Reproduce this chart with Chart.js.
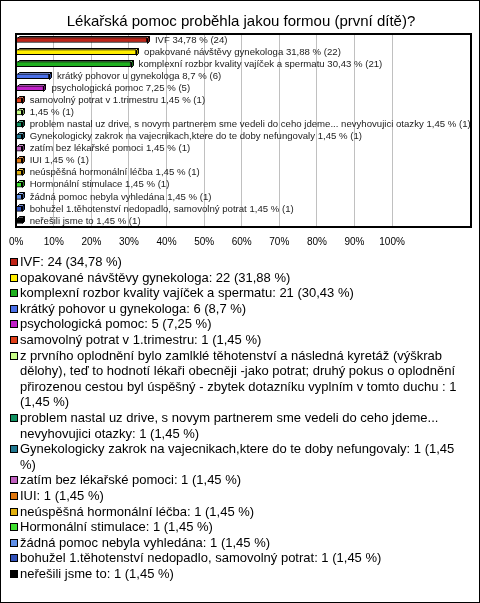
<!DOCTYPE html>
<html>
<head>
<meta charset="utf-8">
<script src="https://cdn.jsdelivr.net/npm/chart.js@4/dist/chart.umd.min.js"></script>
<style>
    body { margin: 0; background: #fff; font-family: "Liberation Sans", Arial, sans-serif; }
    #page { position: relative; width: 480px; height: 603px; overflow: hidden; }
    #frame { position: absolute; left: 0; top: 0; width: 480px; height: 603px; box-sizing: border-box; border: 1px solid #000; pointer-events: none; }
    #chartBox { position: absolute; left: 0; top: 0; width: 480px; height: 262px; }
    #legend { position: absolute; left: 0; top: 254px; width: 472px; font-size: 13px; line-height: 15.6px; color: #000; }
    .item { position: relative; padding-left: 20px; }
    .item span { position: absolute; left: 10px; top: 4px; width: 6px; height: 6px; border: 1px solid #000; }
</style>
</head>
<body>
<div id="page">
    <div id="chartBox"><canvas id="answerChart"></canvas></div>
    <div id="legend"></div>
    <div id="frame"></div>
</div>
<script>
// Data
const title = 'Lékařská pomoc proběhla jakou formou (první dítě)?';
const categories = [
    'IVF',
    'opakované návštěvy gynekologa',
    'komplexní rozbor kvality vajíček a spermatu',
    'krátký pohovor u gynekologa',
    'psychologická pomoc',
    'samovolný potrat v 1.trimestru',
    'z prvního oplodnění bylo zamlklé těhotenství a následná kyretáž (výškrab dělohy), teď to hodnotí lékaři obecněji -jako potrat; druhý pokus o oplodnění přirozenou cestou byl úspěšný - zbytek dotazníku vyplním v tomto duchu ',
    'problem nastal uz drive, s novym partnerem sme vedeli do ceho jdeme... nevyhovujici otazky',
    'Gynekologicky zakrok na vajecnikach,ktere do te doby nefungovaly',
    'zatím bez lékařské pomoci',
    'IUI',
    'neúspěšná hormonální léčba',
    'Hormonální stimulace',
    'žádná pomoc nebyla vyhledána',
    'bohužel 1.těhotenství nedopadlo, samovolný potrat',
    'neřešili jsme to'
];
const counts = [24, 22, 21, 6, 5, 1, 1, 1, 1, 1, 1, 1, 1, 1, 1, 1];
const percents = [34.78, 31.88, 30.43, 8.7, 7.25, 1.45, 1.45, 1.45, 1.45, 1.45, 1.45, 1.45, 1.45, 1.45, 1.45, 1.45];
const colors = ['#bf2418', '#ffee00', '#20b020', '#4a70e8', '#c020c8', '#e0401a', '#c8ff88', '#109060',
                '#207890', '#c060c0', '#e07810', '#e0b010', '#40e030', '#6090e8', '#3050b8', '#000000'];
const tickValues = [0, 10, 20, 30, 40, 50, 60, 70, 80, 90, 100];

const MAX_BAR_LABEL = 100;
const depth = 2;

Chart.defaults.font.family = '"Liberation Sans", Arial, sans-serif';
Chart.defaults.color = '#000';

function pctText(v) {
    return String(v).replace('.', ',');
}

function shade(hex, f) {
    const n = parseInt(hex.slice(1), 16);
    const ch = [(n >> 16) & 255, (n >> 8) & 255, n & 255].map(c => {
        const v = f >= 1 ? c + (255 - c) * (f - 1) : c * f;
        return Math.round(Math.max(0, Math.min(255, v)));
    });
    return 'rgb(' + ch.join(',') + ')';
}

// 3D look: top and end faces behind each bar
const bar3d = {
    id: 'bar3d',
    beforeDatasetsDraw(chart) {
        const ctx = chart.ctx;
        chart.getDatasetMeta(0).data.forEach((bar, i) => {
            const top = Math.round(bar.y - bar.height / 2) + 0.5;
            const bottom = Math.round(bar.y + bar.height / 2) + 0.5;
            const x0 = Math.round(bar.base) + 0.5;
            const x1 = Math.round(bar.x) + 0.5;
            ctx.save();
            ctx.lineWidth = 1;
            ctx.strokeStyle = '#000';
            ctx.fillStyle = shade(colors[i], 1.35);
            ctx.beginPath();
            ctx.moveTo(x0, top);
            ctx.lineTo(x0 + depth, top - depth);
            ctx.lineTo(x1 + depth, top - depth);
            ctx.lineTo(x1, top);
            ctx.closePath();
            ctx.fill();
            ctx.stroke();
            ctx.fillStyle = shade(colors[i], 0.6);
            ctx.beginPath();
            ctx.moveTo(x1, top);
            ctx.lineTo(x1 + depth, top - depth);
            ctx.lineTo(x1 + depth, bottom - depth);
            ctx.lineTo(x1, bottom);
            ctx.closePath();
            ctx.fill();
            ctx.stroke();
            ctx.restore();
        });
    },
    afterDatasetsDraw(chart) {
        const ctx = chart.ctx;
        const area = chart.chartArea;
        // labels next to bars
        ctx.save();
        ctx.font = '9.6px "Liberation Sans", Arial, sans-serif';
        ctx.fillStyle = '#222';
        ctx.textBaseline = 'middle';
        chart.getDatasetMeta(0).data.forEach((bar, i) => {
            const name = categories[i].length > MAX_BAR_LABEL ? '' : categories[i] + ' ';
            const text = name + pctText(percents[i]) + ' % (' + counts[i] + ')';
            ctx.fillText(text, bar.x + depth + 6, bar.y);
        });
        // plot frame
        ctx.strokeStyle = '#000';
        ctx.lineWidth = 2;
        ctx.strokeRect(Math.round(area.left), Math.round(area.top), Math.round(area.right - area.left), Math.round(area.bottom - area.top));
        ctx.restore();
    }
};

new Chart(document.getElementById('answerChart'), {
    type: 'bar',
    data: {
        labels: categories,
        datasets: [{
            data: percents,
            backgroundColor: colors,
            borderColor: '#000',
            borderWidth: 1,
            barThickness: 5
        }]
    },
    options: {
        indexAxis: 'y',
        responsive: true,
        maintainAspectRatio: false,
        animation: false,
        layout: { padding: { left: 11, right: 9, top: 0, bottom: 5 } },
        plugins: {
            legend: { display: false },
            tooltip: { enabled: false },
            title: {
                display: true,
                text: title,
                color: '#000',
                font: { size: 15, weight: 'normal' },
                padding: { top: 13, bottom: 3 }
            }
        },
        scales: {
            x: {
                min: 0,
                max: 121,
                afterBuildTicks: axis => { axis.ticks = tickValues.map(v => ({ value: v })); },
                grid: { color: '#c0c0c0', drawTicks: false, tickLength: 0 },
                border: { display: false },
                ticks: {
                    padding: 9,
                    font: { size: 10 },
                    color: '#000',
                    autoSkip: false,
                    maxRotation: 0,
                    callback: v => v + '%'
                }
            },
            y: {
                display: false,
                grid: { display: false }
            }
        }
    },
    plugins: [bar3d]
});

// Legend below the chart
const legend = document.getElementById('legend');
categories.forEach((name, i) => {
    const item = document.createElement('div');
    item.className = 'item';
    const box = document.createElement('span');
    box.style.background = colors[i];
    item.appendChild(box);
    item.appendChild(document.createTextNode(name + ': ' + counts[i] + ' (' + pctText(percents[i]) + ' %)'));
    legend.appendChild(item);
});
</script>
</body>
</html>
